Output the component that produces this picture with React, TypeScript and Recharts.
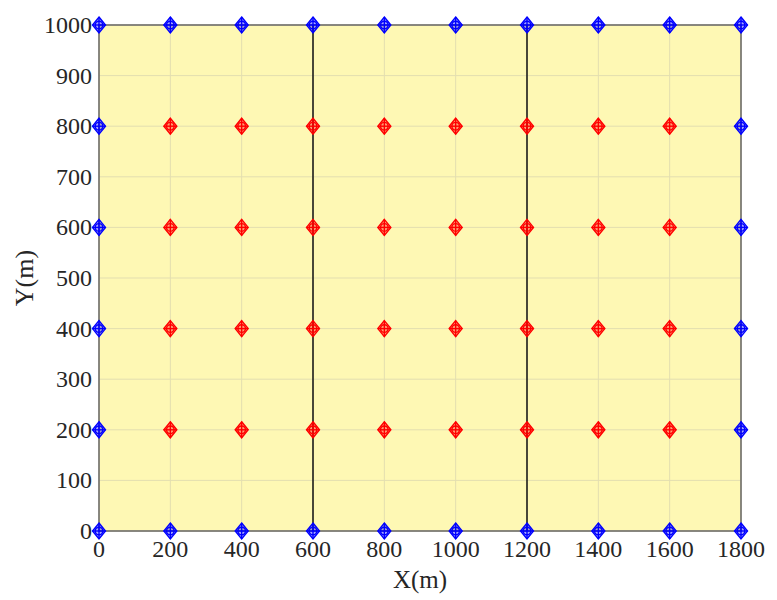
import {
  ScatterChart,
  Scatter,
  XAxis,
  YAxis,
  CartesianGrid,
  ReferenceLine,
  ReferenceArea,
} from 'recharts';

// boundary (blue) nodes
const edgeX = [0, 200, 400, 600, 800, 1000, 1200, 1400, 1600, 1800];
const edgeRowsY = [0, 1000];
const sideX = [0, 1800];
const sideY = [200, 400, 600, 800];

// interior (red) nodes
const innerX = [200, 400, 600, 800, 1000, 1200, 1400, 1600];
const innerY = [200, 400, 600, 800];

const xTicks = [0, 200, 400, 600, 800, 1000, 1200, 1400, 1600, 1800];
const yTicks = [0, 100, 200, 300, 400, 500, 600, 700, 800, 900, 1000];
const dividers = [600, 1200];

const bluePoints = [
  ...edgeRowsY.flatMap((y) => edgeX.map((x) => ({ x, y }))),
  ...sideX.flatMap((x) => sideY.map((y) => ({ x, y }))),
];
const redPoints = innerY.flatMap((y) => innerX.map((x) => ({ x, y })));

const FONT = 'Liberation Serif, serif';

function Marker(props: any) {
  const { cx, cy, color } = props;
  const w = 6.5;
  const h = 8;
  return (
    <g stroke={color} strokeWidth={1.4} fill="none">
      <polygon
        points={`${cx},${cy - h} ${cx + w},${cy} ${cx},${cy + h} ${cx - w},${cy}`}
        fill={color}
        fillOpacity={0.35}
      />
      <circle cx={cx} cy={cy} r={3.8} />
      <line x1={cx - w} y1={cy} x2={cx + w} y2={cy} />
      <line x1={cx} y1={cy - h} x2={cx} y2={cy + h} />
    </g>
  );
}

function XTick(props: any) {
  const { x, y, payload } = props;
  return (
    <text x={x} y={y + 26} textAnchor="middle" fontFamily={FONT} fontSize={24} fill="#262626">
      {payload.value}
    </text>
  );
}

function YTick(props: any) {
  const { x, y, payload } = props;
  return (
    <text x={x} y={y + 8} textAnchor="end" fontFamily={FONT} fontSize={24} fill="#262626">
      {payload.value}
    </text>
  );
}

export default function App() {
  return (
    <div
      style={{ position: 'absolute', left: 0, top: 0, background: '#fff', fontFamily: FONT }}
    >
      <ScatterChart
        width={777}
        height={600}
        margin={{ top: 25, right: 36, left: 0, bottom: 0 }}
      >
        <CartesianGrid
          fill="#FEF8B4"
          fillOpacity={1}
          stroke="#E3DEB0"
          strokeWidth={1}
        />
        <XAxis
          type="number"
          dataKey="x"
          domain={[0, 1800]}
          ticks={xTicks}
          interval={0}
          axisLine={false}
          tickLine={false}
          tickSize={0}
          tickMargin={0}
          height={69}
          tick={<XTick />}
          label={{
            value: 'X(m)',
            position: 'insideBottom',
            offset: 12,
            style: { fontFamily: FONT, fontSize: 25, fill: '#262626' },
          }}
        />
        <YAxis
          type="number"
          dataKey="y"
          domain={[0, 1000]}
          ticks={yTicks}
          interval={0}
          axisLine={false}
          tickLine={false}
          tickSize={0}
          tickMargin={7}
          width={99}
          tick={<YTick />}
          label={{
            value: 'Y(m)',
            angle: -90,
            position: 'insideLeft',
            offset: 24,
            style: { fontFamily: FONT, fontSize: 26, fill: '#262626', textAnchor: 'middle' },
          }}
        />
        <ReferenceArea
          x1={0}
          x2={1800}
          y1={0}
          y2={1000}
          fill="none"
          stroke="#666"
          strokeWidth={1.5}
          ifOverflow="visible"
        />
        {dividers.map((d) => (
          <ReferenceLine key={d} x={d} stroke="#111" strokeWidth={1.5} />
        ))}
        <Scatter
          data={bluePoints}
          isAnimationActive={false}
          shape={(p: any) => <Marker {...p} color="#0000FF" />}
        />
        <Scatter
          data={redPoints}
          isAnimationActive={false}
          shape={(p: any) => <Marker {...p} color="#FF0000" />}
        />
      </ScatterChart>
    </div>
  );
}
